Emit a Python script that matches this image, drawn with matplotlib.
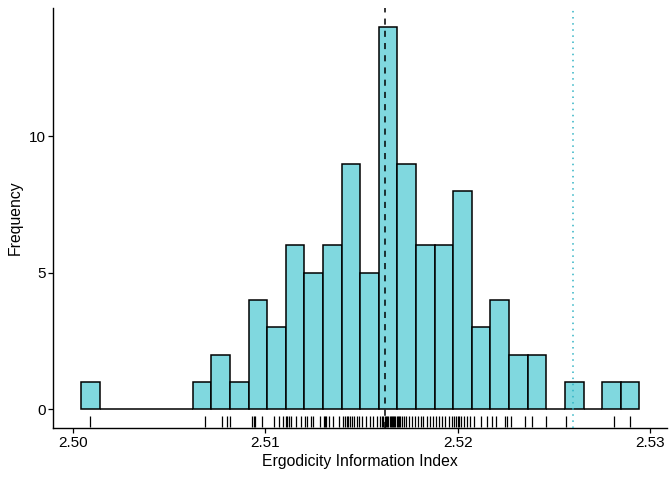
"""Histogram of the Ergodicity Information Index with rug and reference lines"""
import matplotlib
matplotlib.use('Agg')
import matplotlib.pyplot as plt
import numpy as np

plt.rcParams['font.family'] = ['Liberation Sans', 'DejaVu Sans']

# observed index values (one rug tick each)
eii_values = [
    2.50089,
    2.50685,
    2.50774, 2.50800,
    2.50818,
    2.50930, 2.50941, 2.50946, 2.50983,
    2.51045, 2.51072, 2.51093,
    2.51108, 2.51113, 2.51124, 2.51134, 2.51160, 2.51187,
    2.51208, 2.51218, 2.51239, 2.51249, 2.51286,
    2.51302, 2.51312, 2.51317, 2.51328, 2.51349, 2.51380,
    2.51401, 2.51411, 2.51422, 2.51427, 2.51438, 2.51448, 2.51458, 2.51474, 2.51485,
    2.51500, 2.51521, 2.51542, 2.51558, 2.51579,
    2.51594, 2.51605, 2.51610, 2.51621, 2.51626, 2.51631, 2.51636, 2.51647,
    2.51652, 2.51657, 2.51662, 2.51668, 2.51673, 2.51683,
    2.51688, 2.51694, 2.51699, 2.51709, 2.51720, 2.51730, 2.51746, 2.51762, 2.51777,
    2.51793, 2.51809, 2.51819, 2.51840, 2.51856, 2.51871,
    2.51887, 2.51903, 2.51918, 2.51934, 2.51955, 2.51971,
    2.51981, 2.51992, 2.52002, 2.52007, 2.52018, 2.52033, 2.52049, 2.52065,
    2.52086, 2.52122, 2.52154,
    2.52180, 2.52201, 2.52243, 2.52258,
    2.52279, 2.52347,
    2.52384, 2.52457,
    2.52561,
    2.52812,
    2.52896,
]

# bin counts (30 bins)
counts = [1, 0, 0, 0, 0, 0, 1, 2, 1, 4, 3, 6, 5, 6, 9,
          5, 14, 9, 6, 6, 8, 3, 4, 2, 2, 0, 1, 0, 1, 1]

center_value = 2.5162   # dashed line
ref_value = 2.5260      # dotted line

x_ticks = [2.50, 2.51, 2.52, 2.53]
x_tick_labels = ['2.50', '2.51', '2.52', '2.53']
y_ticks = [0, 5, 10]

vals = np.array(eii_values)
n_bins = len(counts)
width = (vals.max() - vals.min()) / (n_bins - 1)
edges = vals.min() - width / 2 + width * np.arange(n_bins + 1)

fig = plt.figure(figsize=(6.72, 4.8), dpi=100)
ax = fig.add_axes([0.079, 0.108, 0.914, 0.875])

ax.bar(edges[:-1], counts, width=width, align='edge', color='#80D8DF',
       edgecolor='black', linewidth=1.1, zorder=2)

ax.axvline(center_value, color='black', linestyle=(0, (4, 4)), linewidth=1.1, zorder=3)
ax.axvline(ref_value, color='#2FB3C4', linestyle=(0, (1, 3)), linewidth=1.1, zorder=3)

# rug along the bottom
ax.vlines(vals, 0.003, 0.03, color='black', linewidth=0.9,
          transform=ax.get_xaxis_transform(), zorder=3)

lo = edges[0]
hi = edges[-1]
pad = (hi - lo) * 0.05
ax.set_xlim(lo - pad, hi + pad)
ax.set_ylim(-0.7, 14.7)

ax.set_xticks(x_ticks)
ax.set_xticklabels(x_tick_labels)
ax.set_yticks(y_ticks)

for side in ['top', 'right']:
    ax.spines[side].set_visible(False)
for side in ['left', 'bottom']:
    ax.spines[side].set_linewidth(1.0)
ax.tick_params(axis='both', length=3.5, width=0.9, labelsize=11, colors='black', pad=2)
ax.set_xlabel('Ergodicity Information Index', fontsize=11.3, labelpad=3)
ax.set_ylabel('Frequency', fontsize=11.3, labelpad=4)

plt.savefig('out.png', dpi=100)
plt.close()
